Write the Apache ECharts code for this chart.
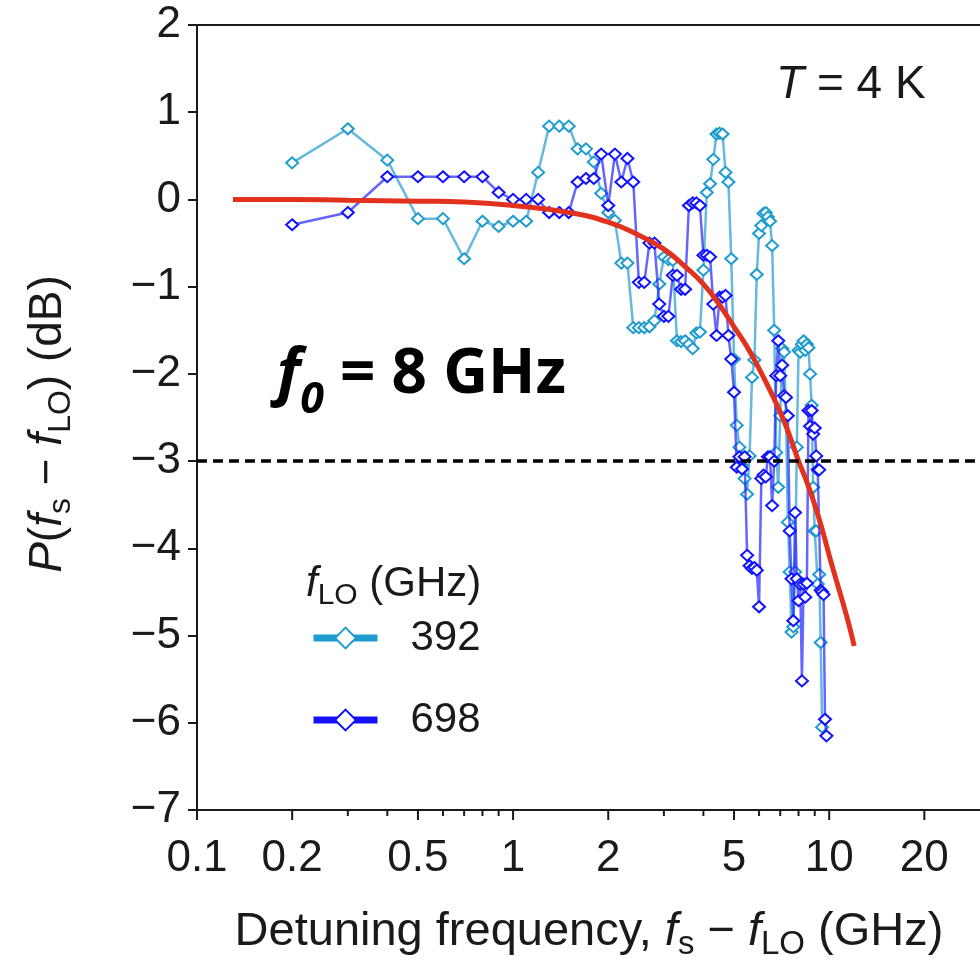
<!DOCTYPE html>
<html><head><meta charset="utf-8">
<script src="https://cdn.jsdelivr.net/npm/echarts@6/dist/echarts.min.js"></script>
<style>html,body{margin:0;padding:0;background:#fff}#c{width:980px;height:964px}</style>
</head><body><div id="c"></div>
<script>
// ---------------- data ----------------
const freq392 = [0.2,0.3,0.4,0.5,0.6,0.7,0.8,0.9,1.0,1.1,1.2,1.3,1.4,1.5,1.6,1.7,1.8,1.9,2.0,2.1,2.2,2.3,2.4,2.5,2.6,2.7,2.8,2.9,3.0,3.1,3.2,3.3,3.4,3.5,3.6,3.7,3.8,3.9,4.0,4.1,4.2,4.3,4.4,4.5,4.6,4.7,4.8,4.9,5.0,5.1,5.2,5.3,5.4,5.5,5.6,5.7,5.8,5.9,6.0,6.1,6.2,6.3,6.4,6.5,6.6,6.7,6.8,6.9,7.0,7.1,7.2,7.3,7.4,7.5,7.6,7.7,7.8,7.9,8.0,8.1,8.2,8.3,8.4,8.5,8.6,8.7,8.8,8.9,9.0,9.1,9.2,9.3,9.4,9.5];
const p392 = [0.42,0.81,0.45,-0.22,-0.22,-0.68,-0.25,-0.31,-0.25,-0.25,0.31,0.84,0.84,0.84,0.58,0.58,0.43,0.07,-0.15,-0.24,-0.73,-0.73,-1.47,-1.47,-1.47,-1.46,-1.39,-0.97,-0.66,-0.69,-0.70,-1.62,-1.63,-1.62,-1.66,-1.71,-1.53,-1.52,-0.81,0.08,0.18,0.46,0.75,0.76,0.75,0.31,0.20,-0.68,-1.83,-2.59,-2.84,-3.05,-3.20,-3.38,-2.94,-2.04,-1.84,-0.86,-0.39,-0.30,-0.16,-0.15,-0.20,-0.25,-0.53,-1.50,-2.90,-3.30,-2.48,-1.71,-1.75,-2.48,-3.70,-4.27,-4.96,-4.90,-4.27,-2.84,-1.73,-1.75,-1.66,-1.62,-1.73,-1.66,-1.70,-2.00,-2.36,-3.30,-3.80,-3.80,-4.41,-4.30,-5.08,-6.05];
const freq698 = [0.2,0.3,0.4,0.5,0.6,0.7,0.8,0.9,1.0,1.1,1.2,1.3,1.4,1.5,1.6,1.7,1.8,1.9,2.0,2.1,2.2,2.3,2.4,2.5,2.6,2.7,2.8,2.9,3.0,3.1,3.2,3.3,3.4,3.5,3.6,3.7,3.8,3.9,4.0,4.1,4.2,4.3,4.4,4.5,4.6,4.7,4.8,4.9,5.0,5.1,5.2,5.3,5.4,5.5,5.6,5.7,5.8,5.9,6.0,6.1,6.2,6.3,6.4,6.5,6.6,6.7,6.8,6.9,7.0,7.1,7.2,7.3,7.4,7.5,7.6,7.7,7.8,7.9,8.0,8.1,8.2,8.3,8.4,8.5,8.6,8.7,8.8,8.9,9.0,9.1,9.2,9.3,9.4,9.5,9.6,9.7,9.8];
const p698 = [-0.29,-0.15,0.26,0.26,0.26,0.26,0.26,0.08,0.00,0.00,0.00,-0.15,-0.15,-0.15,0.20,0.24,0.24,0.52,-0.07,0.52,0.20,0.47,0.20,-0.95,-0.95,-0.50,-0.50,-1.20,-1.34,-1.34,-0.87,-0.87,-1.03,-1.03,-0.07,-0.04,-0.04,-0.07,-0.64,-0.64,-0.66,-1.20,-1.56,-1.12,-1.12,-1.10,-1.56,-1.83,-2.21,-3.07,-2.95,-3.09,-2.95,-4.08,-4.20,-4.23,-4.22,-4.25,-4.67,-3.20,-3.16,-3.18,-2.95,-2.95,-3.51,-3.00,-2.02,-1.62,-2.02,-1.90,-2.25,-2.27,-2.48,-3.80,-4.35,-4.83,-3.59,-4.35,-4.60,-4.41,-5.52,-4.41,-4.56,-4.40,-2.42,-2.60,-2.42,-2.69,-2.62,-2.94,-3.10,-3.10,-4.48,-4.50,-4.53,-5.96,-6.15];
const fitFreq = [0.13,0.2,0.3,0.5,0.7,1,1.5,2,2.5,3,3.5,4,4.5,5,5.5,6,6.5,7,7.5,8,8.5,9,9.5,10,10.5,11,11.5,12];
const fitP = [0.00,0.00,-0.01,-0.02,-0.03,-0.07,-0.15,-0.26,-0.41,-0.57,-0.77,-0.97,-1.21,-1.46,-1.69,-1.94,-2.19,-2.44,-2.71,-3.00,-3.24,-3.50,-3.78,-4.08,-4.35,-4.60,-4.85,-5.12];
const thresholdDb = -3;
const seriesNames = ['392','698'];
const xMajorTicks = [0.1,0.2,0.5,1,2,5,10,20];
const xTickLabels = ['0.1','0.2','0.5','1','2','5','10','20'];
const xMinorTicks = [0.3,0.4,0.6,0.7,0.8,0.9,3,4,6,7,8,9];
const X_MIN = 0.1, X_MAX = 30, Y_MIN = -7, Y_MAX = 2, Y_STEP = 1;

// ---------------- styling ----------------
const FONT = "'Liberation Sans', Arial, Helvetica, sans-serif";
const INK = '#1a1a1a';
const C392 = '#1f9ccf', C392L = 'rgba(40,158,208,0.72)';
const C698 = '#1212ff', C698L = 'rgba(30,30,255,0.68)';
const RED = '#e2321e';

function zip(a, b){ return a.map((v, i) => [v, b[i]]); }

function tickRenderer(isMajor){
  return function(params, api){
    const v = api.value(0);
    const p = api.coord([v, Y_MIN]);
    const len = isMajor ? 10 : 6;
    const children = [{type:'line', shape:{x1:p[0], y1:p[1], x2:p[0], y2:p[1]+len},
      style:{stroke:INK, lineWidth:2}}];
    if (isMajor) {
      children.push({type:'text', style:{text:xTickLabels[params.dataIndex], x:p[0], y:p[1]+27,
        align:'center', verticalAlign:'top', fontSize:44, fontFamily:FONT, fill:INK}});
    }
    return {type:'group', children};
  };
}

function richSet(size, lh, subSize){
  return {
    n:{fontSize:size, fontFamily:FONT, fill:INK, lineHeight:lh},
    i:{fontSize:size, fontFamily:FONT, fill:INK, fontStyle:'italic', lineHeight:lh},
    s:{fontSize:subSize, fontFamily:FONT, fill:INK, lineHeight:subSize, verticalAlign:'bottom'}
  };
}

const chart = echarts.init(document.getElementById('c'), null, {renderer:'canvas'});
chart.setOption({
  animation:false,
  backgroundColor:'#fff',
  grid:{left:197, top:25, right:0, bottom:154, containLabel:false},
  xAxis:[{
    type:'log', logBase:10, min:X_MIN, max:X_MAX, gridIndex:0,
    axisLine:{show:true, onZero:false, lineStyle:{color:INK, width:2}},
    axisTick:{show:false}, axisLabel:{show:false}, splitLine:{show:false}, minorTick:{show:false}
  },{
    type:'value', min:0, max:1, position:'top', gridIndex:0,
    axisLine:{show:true, onZero:false, lineStyle:{color:INK, width:2}},
    axisTick:{show:false}, axisLabel:{show:false}, splitLine:{show:false}
  }],
  yAxis:{
    type:'value', min:Y_MIN, max:Y_MAX, interval:Y_STEP,
    axisLine:{show:true, onZero:false, lineStyle:{color:INK, width:2}},
    axisTick:{show:true, inside:false, length:9, lineStyle:{color:INK, width:2}},
    axisLabel:{fontSize:44, fontFamily:FONT, color:INK, margin:16,
      formatter:v => v < 0 ? '\u2212' + Math.abs(v) : String(v)},
    splitLine:{show:false}
  },
  legend:{
    orient:'vertical', left:305, top:612, itemGap:40, itemWidth:64, itemHeight:26,
    selectedMode:false,
    data:[
      {name:seriesNames[0], lineStyle:{color:C392, width:7}, itemStyle:{color:C392, borderColor:C392}},
      {name:seriesNames[1], lineStyle:{color:C698, width:7}, itemStyle:{color:C698, borderColor:C698}}
    ],
    lineStyle:{width:7},
    textStyle:{fontSize:42, fontFamily:FONT, color:INK, padding:[0,0,0,28]}
  },
  graphic:[
    {type:'text', x:48, y:424, rotation:Math.PI/2, silent:true,
      style:{text:'{i|P}{n|(}{i|f}{s|s}{n| \u2212 }{i|f}{s|LO}{n|) (dB)}', align:'center', verticalAlign:'middle',
        rich:richSet(46, 58, 32)}},
    {type:'text', x:589, y:932, silent:true,
      style:{text:'{n|Detuning frequency, }{i|f}{s|s}{n| \u2212 }{i|f}{s|LO}{n| (GHz)}', align:'center', verticalAlign:'middle',
        rich:richSet(47, 58, 33)}},
    {type:'text', x:776, y:85, silent:true,
      style:{text:'{i|T}{n| = 4 K}', align:'left', verticalAlign:'middle', rich:richSet(46, 50, 32)}},
    {type:'text', x:306, y:584, silent:true,
      style:{text:'{i|f}{s|LO}{n| (GHz)}', align:'left', verticalAlign:'middle', rich:richSet(42, 54, 30)}},
    {type:'text', x:277, y:375, silent:true,
      style:{text:'{b|f}{z|0}{c| = 8 GHz}', align:'left', verticalAlign:'middle',
        rich:{
          b:{fontSize:62, fontFamily:"'Noto Sans', 'Open Sans', sans-serif", fontWeight:'bold', fontStyle:'italic', fill:'#000', lineHeight:94},
          z:{fontSize:43, fontFamily:"'Noto Sans', 'Open Sans', sans-serif", fontWeight:'bold', fontStyle:'italic', fill:'#000', lineHeight:43, verticalAlign:'bottom'},
          c:{fontSize:62, fontFamily:"'Noto Sans', 'Open Sans', sans-serif", fontWeight:'bold', fill:'#000', lineHeight:94}
        }}}
  ],
  series:[
    {name:seriesNames[0], type:'line', data:zip(freq392, p392), z:3,
      symbol:'emptyDiamond', symbolSize:[12,11], showAllSymbol:true,
      lineStyle:{color:C392L, width:2.5}, itemStyle:{color:C392, borderColor:C392, borderWidth:2}},
    {name:seriesNames[1], type:'line', data:zip(freq698, p698), z:4,
      symbol:'emptyDiamond', symbolSize:[12,11], showAllSymbol:true,
      lineStyle:{color:C698L, width:2.5}, itemStyle:{color:C698, borderColor:C698, borderWidth:2}},
    {name:'fit', type:'line', data:zip(fitFreq, fitP), z:6, smooth:true, symbol:'none',
      lineStyle:{color:RED, width:5},
      markLine:{silent:true, symbol:'none', label:{show:false}, z:7,
        lineStyle:{color:'#000', width:3.5, type:[10,6]},
        data:[{yAxis:thresholdDb}]}},
    {name:'xMajor', type:'custom', data:xMajorTicks.map(v => [v, Y_MIN]), renderItem:tickRenderer(true),
      clip:false, silent:true, z:8},
    {name:'xMinor', type:'custom', data:xMinorTicks.map(v => [v, Y_MIN]), renderItem:tickRenderer(false),
      clip:false, silent:true, z:8}
  ]
});
</script></body></html>
